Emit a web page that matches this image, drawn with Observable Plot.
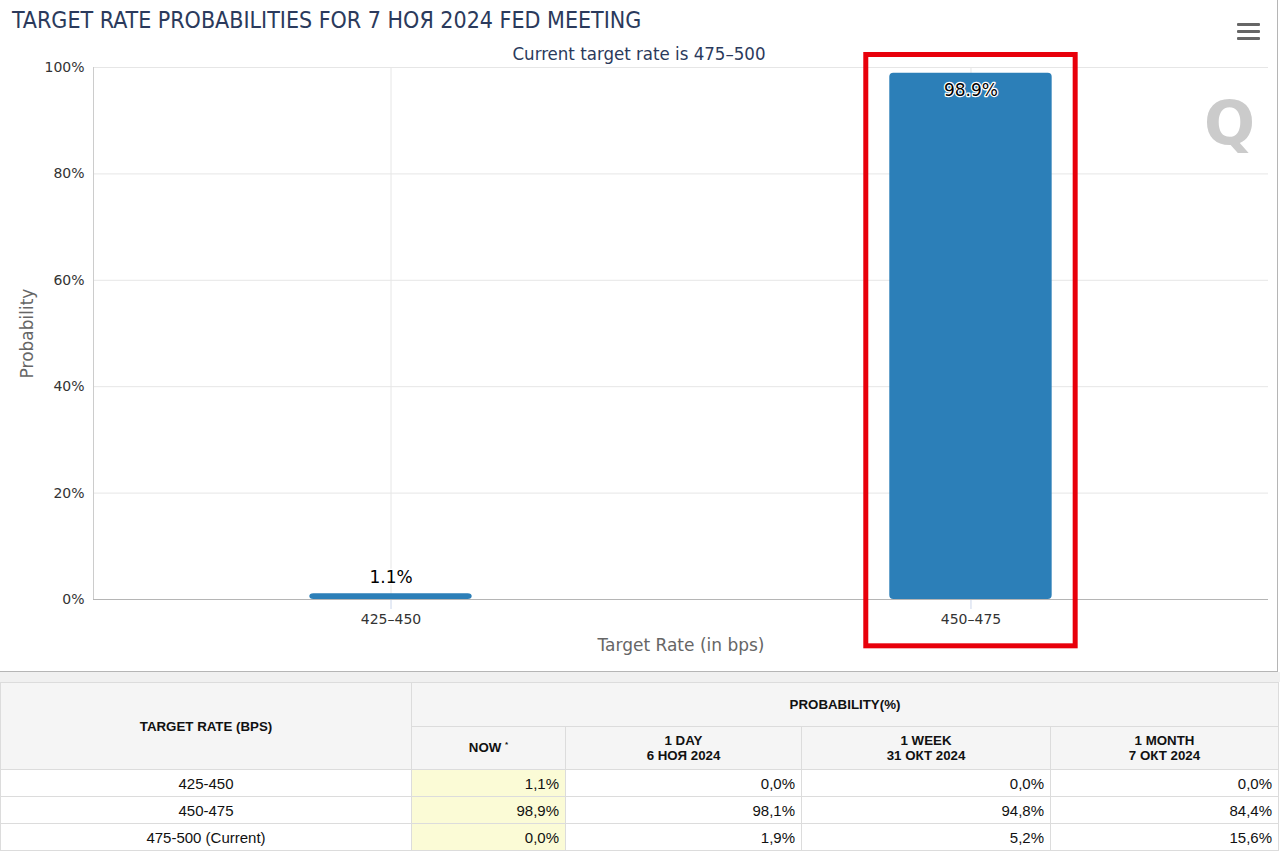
<!DOCTYPE html>
<html>
<head>
<meta charset="utf-8">
<script src="https://cdn.jsdelivr.net/npm/d3@7"></script>
<script src="https://cdn.jsdelivr.net/npm/@observablehq/plot@0.6"></script>
<style>
  html, body { margin: 0; padding: 0; background: #fff; }
  #chartbox { position: relative; width: 1277px; height: 671px; border-right: 1px solid #b5b5b5; border-bottom: 1px solid #b5b5b5; overflow: hidden; }
  #title { position: absolute; left: 12px; top: 7px; font-family: "DejaVu Sans Condensed", "DejaVu Sans", sans-serif; font-size: 23px; color: #2b3a5c; white-space: nowrap; }
  #plotwrap { position: absolute; left: 0; top: 40px; width: 1280px; }
  #plotwrap svg { max-width: none !important; }
  #subtitle { position: absolute; left: 0; width: 1278px; top: 43px; text-align: center; font-family: "DejaVu Sans Condensed", "DejaVu Sans", sans-serif; font-size: 18.5px; color: #2b3a5c; }
  #menu { position: absolute; left: 1237px; top: 23px; width: 23px; }
  #menu div { height: 3px; background: #666; border-radius: 1px; margin-bottom: 4px; }
  #logo { position: absolute; left: 1204px; top: 88px; font-family: "DejaVu Sans", sans-serif; font-weight: bold; font-size: 60px; color: #cbcbcb; }
  #gap { height: 10px; background: #f0f0f0; }
  table { border-collapse: collapse; width: 1278px; table-layout: fixed; font-family: "Liberation Sans", Arial, sans-serif; color: #111; }
  th { background: #f5f5f5; font-weight: bold; font-size: 13.3px; border: 1px solid #dcdcdc; text-align: center; padding: 0; }
  td { font-size: 15px; border: 1px solid #dcdcdc; padding: 0 6px; height: 26px; }
  td.name { text-align: center; }
  td.val { text-align: right; }
  td.now { background: #fbfbd6; }
  sup { font-size: 8px; }
</style>
</head>
<body>
<div id="chartbox">
  <div id="title"></div>
  <div id="plotwrap"></div>
  <div id="subtitle"></div>
  <div id="menu"><div></div><div></div><div></div></div>
  <div id="logo">Q</div>
</div>
<div id="gap"></div>
<div id="tablewrap"></div>
<script>
// ---- data ----
const titleText = "TARGET RATE PROBABILITIES FOR 7 НОЯ 2024 FED MEETING";
const subtitleText = "Current target rate is 475–500";
const categories = ["425–450", "450–475"];
const probabilities = [1.1, 98.9];
const yTicks = [0, 20, 40, 60, 80, 100];
const highlightCategory = "450–475";
const highlightRange = [-8.8, 102.35];

const tableRates = ["425-450", "450-475", "475-500 (Current)"];
const tableColumns = [
  ["NOW", ""],
  ["1 DAY", "6 НОЯ 2024"],
  ["1 WEEK", "31 ОКТ 2024"],
  ["1 MONTH", "7 ОКТ 2024"]
];
const nowValues = ["1,1%", "98,9%", "0,0%"];
const dayValues = ["0,0%", "98,1%", "1,9%"];
const weekValues = ["0,0%", "94,8%", "5,2%"];
const monthValues = ["0,0%", "84,4%", "15,6%"];

// ---- chart ----
document.getElementById("title").textContent = titleText;
document.getElementById("subtitle").textContent = subtitleText;

const data = categories.map((c, i) => ({rate: c, prob: probabilities[i]}));
const fmt = d => d.prob.toFixed(1) + "%";

const chart = Plot.plot({
  width: 1280,
  height: 632,
  marginTop: 27,
  marginBottom: 73,
  marginLeft: 93,
  marginRight: 12,
  style: {fontFamily: "DejaVu Sans, sans-serif", fontSize: "14px", color: "#333", background: "transparent"},
  x: {domain: categories, paddingInner: 0.72, paddingOuter: 0.373, round: false, label: null},
  y: {domain: [0, 100], label: null},
  marks: [
    Plot.gridY(yTicks, {stroke: "#e6e6e6", strokeOpacity: 1}),
    Plot.gridX({stroke: "#e6e6e6", strokeOpacity: 1}),
    Plot.axisY(yTicks, {tickSize: 0, tickPadding: 9, tickFormat: d => d + "%", fill: "#333", fontSize: 14, label: null}),
    Plot.axisX({tickSize: 10, tickPadding: 5, stroke: "#ccd6eb", fill: "#333", fontSize: 14, label: null}),
    Plot.frame({anchor: "left", stroke: "#ccc"}),
    Plot.barY(data, {x: "rate", y: "prob", fill: "#2c7fb8", rx: 4}),
    Plot.ruleY([0], {stroke: "#b5b5b5"}),
    Plot.text(data.filter(d => d.prob > 50), {x: "rate", y: "prob", text: fmt, dy: 17, fill: "#000", stroke: "#fff", strokeWidth: 2.5, fontSize: 17, paintOrder: "stroke"}),
    Plot.text(data.filter(d => d.prob <= 50), {x: "rate", y: "prob", text: fmt, dy: -16, fill: "#000", stroke: "#fff", strokeWidth: 2.5, fontSize: 17, paintOrder: "stroke"}),
    Plot.text(["Target Rate (in bps)"], {frameAnchor: "bottom", dy: 51, fill: "#666", fontSize: 17}),
    Plot.text(["Probability"], {frameAnchor: "left", textAnchor: "middle", dx: -66, rotate: -90, fill: "#666", fontSize: 17}),
    Plot.barY([{rate: highlightCategory, lo: highlightRange[0], hi: highlightRange[1]}],
      {x: "rate", y1: "lo", y2: "hi", fill: "none", stroke: "#e8000b", strokeWidth: 5, insetLeft: -23.5, insetRight: -23.5})
  ]
});
document.getElementById("plotwrap").appendChild(chart);

// ---- table ----
const colWidths = [411, 154, 236, 249, 228];
let html = "<table><colgroup>" + colWidths.map(w => `<col style="width:${w}px">`).join("") + "</colgroup>";
html += `<tr style="height:44px"><th rowspan="2">TARGET RATE (BPS)</th><th colspan="4">PROBABILITY(%)</th></tr>`;
html += `<tr style="height:43px">` + tableColumns.map((c, i) =>
  i === 0 ? `<th>${c[0]} <sup>*</sup></th>` : `<th>${c[0]}<br>${c[1]}</th>`).join("") + "</tr>";
tableRates.forEach((r, i) => {
  html += `<tr><td class="name">${r}</td><td class="val now">${nowValues[i]}</td><td class="val">${dayValues[i]}</td><td class="val">${weekValues[i]}</td><td class="val">${monthValues[i]}</td></tr>`;
});
html += "</table>";
document.getElementById("tablewrap").innerHTML = html;
</script>
</body>
</html>
